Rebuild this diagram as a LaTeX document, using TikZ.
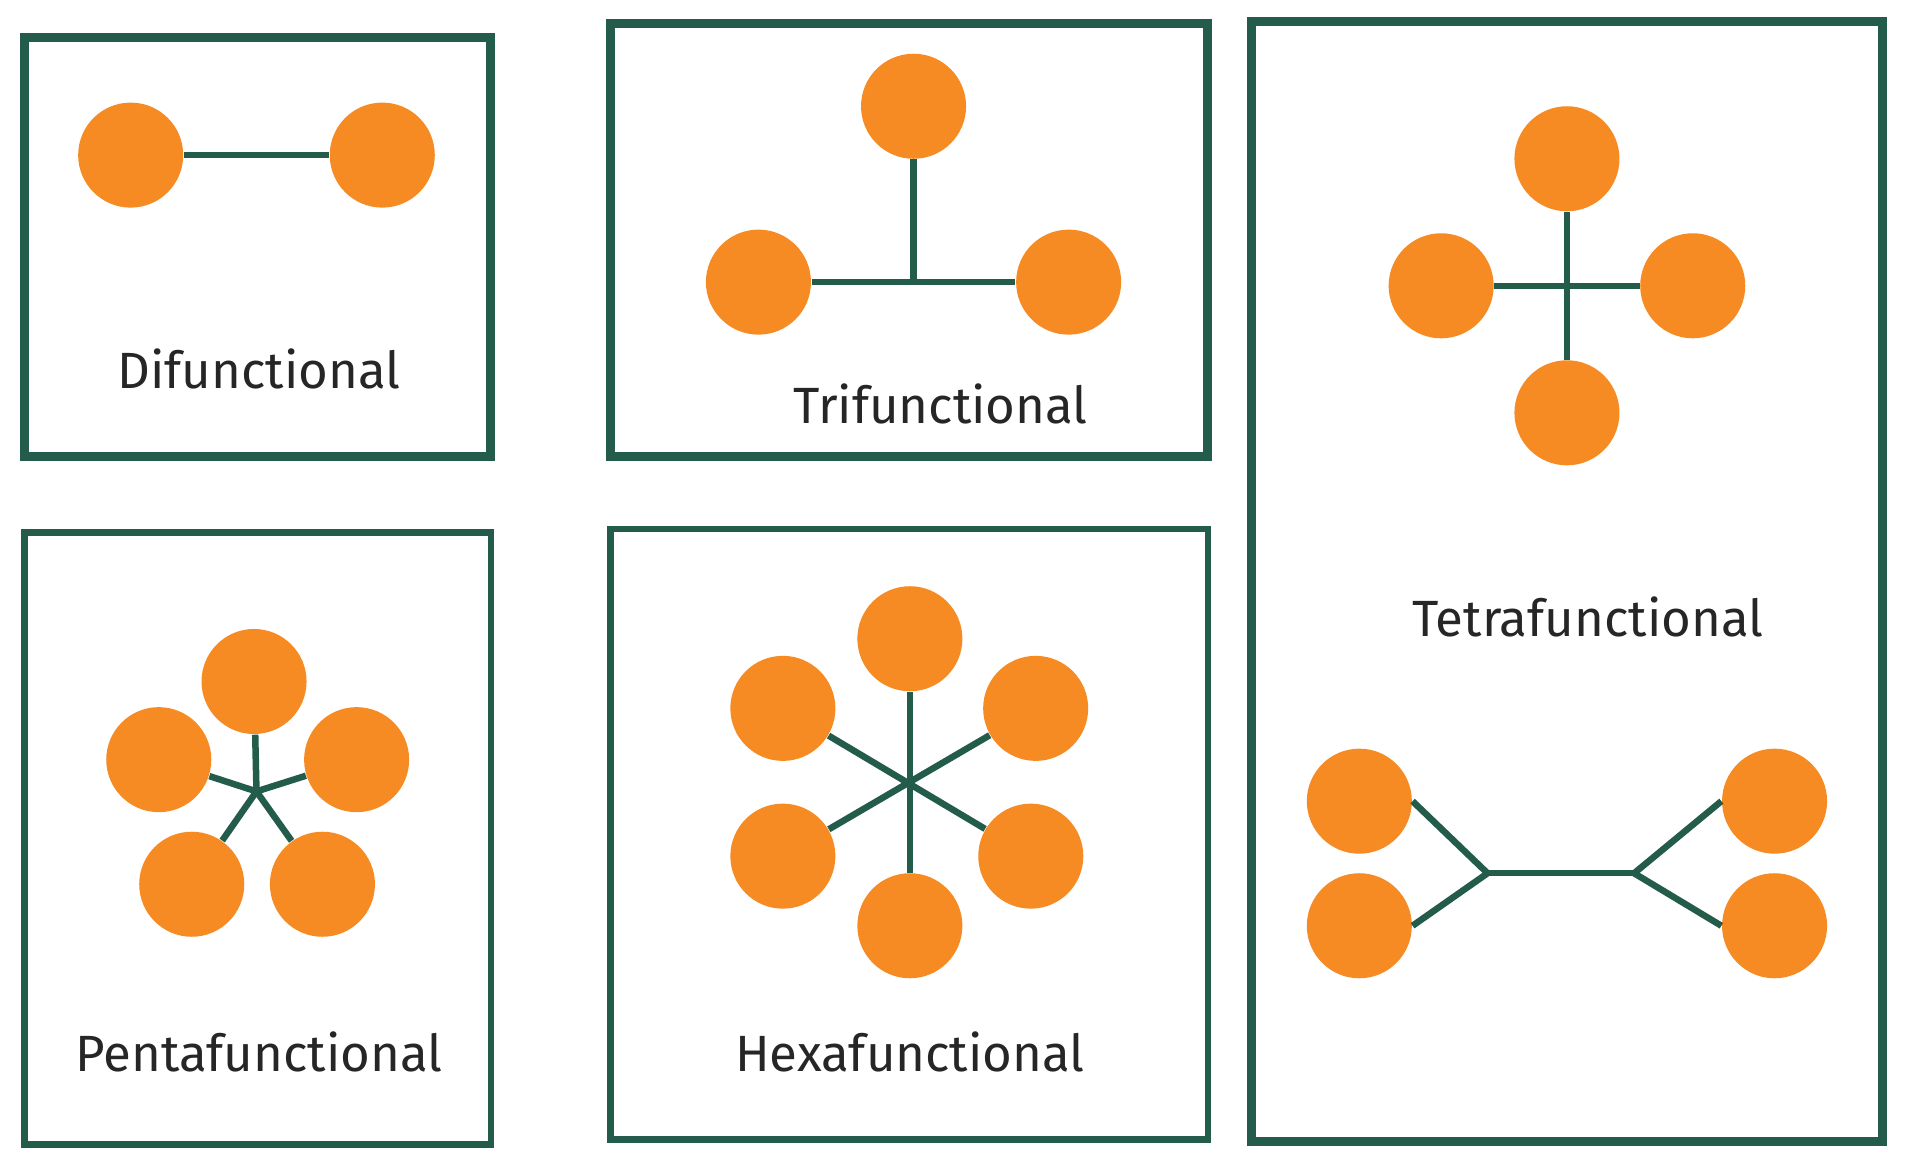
\documentclass[tikz,border=0pt]{standalone}
\usepackage{fontspec}
\setmainfont{Fira Sans}
\definecolor{atomorange}{HTML}{F68B24}
\definecolor{bondgreen}{HTML}{245C4C}
\tikzset{
  atom/.style={circle, fill=atomorange, minimum size=1.05cm, inner sep=0pt},
  bond/.style={draw=bondgreen, line width=0.065cm},
  panel/.style={draw=bondgreen, line width=0.09cm},
  thinpanel/.style={draw=bondgreen, line width=0.065cm},
  caption/.style={font=\fontsize{14.5}{17}\selectfont, text=black!85, inner sep=0pt}
}
\begin{document}
\begin{tikzpicture}[x=0.012213cm, y=-0.012213cm]
  \useasboundingbox (0,0) rectangle (1568,958);
  \begin{scope}
    \draw[panel] (20,31) rectangle (402,374);
    \node[atom] (d1) at (107,127) {};
    \node[atom] (d2) at (313,127) {};
    \draw[bond] (d1) -- (d2);
    \node[caption] (dilabel) at (212,302) {Difunctional};
  \end{scope}
  \begin{scope}
    \draw[panel] (500,19) rectangle (989,374);
    \node[atom] (t1) at (748,87) {};
    \node[atom] (t2) at (621,231) {};
    \node[atom] (t3) at (875,231) {};
    \coordinate (t0) at (748,231);
    \draw[bond] (t2) -- (t3);
    \draw[bond] (t1) -- (t0);
    \node[caption] (trilabel) at (770,331) {Trifunctional};
  \end{scope}
  \begin{scope}
    \draw[panel] (1025,18) rectangle (1541,935);
    \node[atom] (q1) at (1283,130) {};
    \node[atom] (q2) at (1180,234) {};
    \node[atom] (q3) at (1386,234) {};
    \node[atom] (q4) at (1283,338) {};
    \draw[bond] (q1) -- (q4);
    \draw[bond] (q2) -- (q3);
    \node[caption] (tetralabel) at (1300,505) {Tetrafunctional};
    \node[atom] (b1) at (1113,656) {};
    \node[atom] (b2) at (1113,758) {};
    \node[atom] (b3) at (1453,656) {};
    \node[atom] (b4) at (1453,758) {};
    \coordinate (j1) at (1218,715);
    \coordinate (j2) at (1338,715);
    \draw[bond] (j1) -- (j2);
    \draw[bond] (b1.east) -- (j1) -- (b2.east);
    \draw[bond] (b3.west) -- (j2) -- (b4.west);
  \end{scope}
  \begin{scope}
    \draw[thinpanel] (20,436) rectangle (402,937);
    \coordinate (p0) at (210,648);
    \node[atom] (p1) at (208,558) {};
    \node[atom] (p2) at (130,622) {};
    \node[atom] (p3) at (292,622) {};
    \node[atom] (p4) at (157,724) {};
    \node[atom] (p5) at (264,724) {};
    \foreach \i in {1,...,5}
      \draw[bond] (p0) -- (p\i);
    \node[caption] (pentalabel) at (212,861) {Pentafunctional};
  \end{scope}
  \begin{scope}
    \draw[thinpanel] (500,433) rectangle (989,933);
    \coordinate (h0) at (745,641);
    \node[atom] (h1) at (745,523) {};
    \node[atom] (h2) at (641,580) {};
    \node[atom] (h3) at (848,580) {};
    \node[atom] (h4) at (641,701) {};
    \node[atom] (h5) at (844,701) {};
    \node[atom] (h6) at (745,758) {};
    \draw[bond] (h1) -- (h6);
    \draw[bond] (h2) -- (h5);
    \draw[bond] (h3) -- (h4);
    \node[caption] (hexalabel) at (745,861) {Hexafunctional};
  \end{scope}
\end{tikzpicture}
\end{document}
